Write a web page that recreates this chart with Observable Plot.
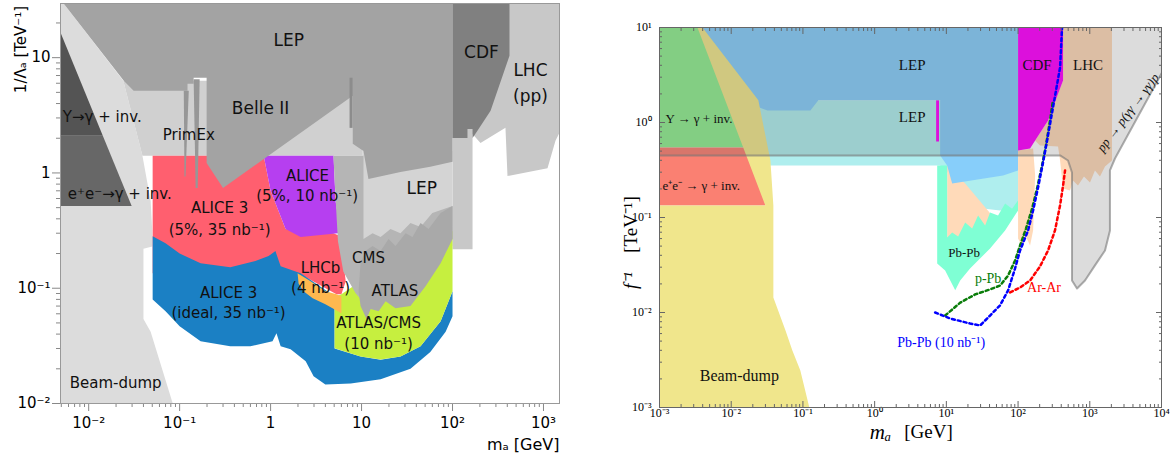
<!DOCTYPE html>
<html><head><meta charset="utf-8">
<script src="https://cdn.jsdelivr.net/npm/d3@7"></script>
<script src="https://cdn.jsdelivr.net/npm/@observablehq/plot@0.6"></script>
<style>
body{margin:0;background:#fff;}
#wrap{display:flex;width:1174px;height:461px;}
</style></head><body><div id="wrap"></div>
<script>
// ================= LEFT PANEL: m_a [GeV] vs 1/Λ_a [TeV^-1] =================
const L_beamDump = [[0.0049,29.5],[0.0053,29.5],[0.024,6.3],[0.039,1.41],[0.048,0.57],[0.05,0.31],[0.05,0.23],[0.04,0.22],[0.04,0.054],[0.048,0.042],[0.084,0.01],[0.0049,0.01]];
const L_primEx = [[0.024,6.3],[10.3,6.3],[10.3,1.41],[0.039,1.41]];
const L_lhcPP = [[100,29.5],[1500,29.5],[1500,2.23],[1355,1.9],[1107,1.1],[402,0.94],[382,2.46],[203,1.82],[166,2.18],[166,0.218],[100,0.218]];
const L_lepLow = [[10.3,1.55],[100,1.55],[100,0.232],[10.3,0.232]];
const L_alice3 = [[0.0505,1.41],[0.84,1.41],[1,0.70],[1.46,0.326],[4.9,0.30],[5.9,0.283],[6.3,0.172],[6.7,0.115],[6.0,0.0887],[5.3,0.0887],[2.03,0.135],[0.0505,0.135]];
const L_alice3Ideal = [[0.0505,0.283],[0.07,0.246],[0.1,0.20],[0.17,0.165],[0.36,0.152],[0.68,0.172],[0.95,0.19],[1.13,0.21],[1.29,0.155],[2.14,0.135],[5.05,0.085],[5.05,0.030],[9.75,0.0256],[16.2,0.024],[26.8,0.0256],[44.5,0.0313],[74,0.0516],[100,0.094],[100,0.057],[84,0.042],[57,0.028],[34.5,0.020],[16.2,0.0162],[7.6,0.0149],[4.0,0.0146],[2.97,0.0172],[2.43,0.0232],[1.66,0.0295],[1.29,0.0313],[1.16,0.0406],[1.05,0.0346],[0.6,0.0313],[0.36,0.0313],[0.17,0.0346],[0.1,0.0468],[0.07,0.063],[0.0505,0.080]];
const L_atlasCms10 = [[5.05,0.0835],[6.0,0.0887],[9.75,0.115],[100,0.313],[100,0.094],[74,0.0516],[44.5,0.0313],[26.8,0.0256],[16.2,0.0241],[9.75,0.0256],[5.05,0.0301]];
const L_lhcb = [[1.98,0.135],[2.75,0.115],[4.0,0.094],[5.3,0.0887],[6.0,0.085],[6.0,0.0607],[4.0,0.0726],[2.9,0.082],[2.3,0.094],[2.03,0.11]];
const L_alice = [[0.84,1.41],[4.92,1.41],[5.18,0.571],[5.88,0.301],[2.14,0.278],[1.46,0.326],[1,0.70]];
const L_cms = [[4.9,1.41],[10.5,1.41],[10.5,0.267],[13.2,0.30],[16.2,0.278],[20.8,0.326],[26.8,0.30],[34.5,0.368],[44.5,0.339],[60,0.449],[100,0.516],[100,0.267],[26.8,0.165],[14.3,0.104],[11.35,0.077],[10.26,0.077],[8.6,0.0905],[6.3,0.14],[5.5,0.256],[5.2,0.571]];
const L_atlas = [[9.75,0.165],[11,0.21],[13.2,0.232],[16.2,0.21],[19.8,0.267],[23.6,0.232],[30.5,0.30],[36.3,0.278],[44.5,0.368],[54.5,0.326],[74,0.449],[100,0.516],[100,0.267],[74,0.165],[50.5,0.104],[34.5,0.07],[23.6,0.067],[18.4,0.077],[15.4,0.063],[12.6,0.066],[11.35,0.054],[9.75,0.07],[9.27,0.094]];
const L_lep = [[0.0053,29.5],[100,29.5],[100,1.25],[57,1.13],[26.8,1.02],[11.9,0.887],[10.5,1.55],[8.0,1.79],[8.0,4.68],[0.30,0.74],[0.198,1.22],[0.198,6.7],[0.1425,6.7],[0.1425,5.94],[0.122,5.94],[0.122,5.16],[0.0312,5.16],[0.0243,6.31]];
const L_primExA = [[0.111,5.16],[0.126,5.16],[0.116,0.93],[0.113,0.93]];
const L_primExB = [[0.1425,6.5],[0.166,6.5],[0.158,0.74],[0.150,0.74]];
const L_lepStripe = [[7.38,6.7],[7.96,6.7],[7.96,2.46],[7.38,2.46]];
const L_cdf = [[100,29.5],[423,29.5],[423,10.4],[262,3.46],[188,2.32],[166,2.01],[166,2.41],[146,2.41],[146,2.01],[100,2.01]];
const L_upsilon = [[0.0049,16.5],[0.0143,2.10],[0.0049,2.10]];
const L_eeGamma = [[0.0049,2.10],[0.0143,2.10],[0.0297,0.516],[0.0049,0.516]];

const L_labelsBig = [["LEP",1.58,14.1],["Belle II",0.776,3.6],["CDF",208,11],["LHC",719,7.7],["(pp)",719,4.58],["LEP",46,0.726]];
const L_labels = [["PrimEx",0.126,2.14],["ALICE 3",0.275,0.497],["(5%, 35 nb⁻¹)",0.275,0.319],["ALICE",2.55,0.94],["(5%, 10 nb⁻¹)",2.52,0.631],["CMS",11.9,0.182],["LHCb",3.54,0.149],["(4 nb⁻¹)",3.54,0.10],["ATLAS",23.3,0.094],["ATLAS/CMS",15.4,0.0497],["(10 nb⁻¹)",15.4,0.0326],["ALICE 3",0.345,0.0905],["(ideal, 35 nb⁻¹)",0.345,0.0607],["Beam-dump",0.0198,0.0149]];
const L_labelsStart = [["Υ→γ + inv.",0.0052,3.07],["e⁺e⁻→γ + inv.",0.0059,0.656]];

const L_xTicks = [0.01,0.1,1,10,100,1000];
const L_xTickLabels = ["10⁻²","10⁻¹","1","10","10²","10³"];
const L_yTicks = [0.01,0.1,1,10];
const L_yTickLabels = ["10⁻²","10⁻¹","1","10"];

// ================= RIGHT PANEL: m_a [GeV] vs f^-1 [TeV^-1] =================
const R_upsilon = [[0.001,10],[0.0037,10],[0.0134,1.71],[0.0232,0.546],[0.001,0.546]];
const R_eeGamma = [[0.001,0.546],[0.03,0.546],[0.03,0.134],[0.001,0.134]];
const R_lepLow = [[0.0134,1.71],[100,1.71],[100,0.124],[56,0.1185],[34.7,0.124],[18.3,0.217],[9.6,0.313],[8.2,0.353],[0.0255,0.353]];
const R_lepPeach = [[10.26,0.353],[18.3,0.228],[43.4,0.105],[43.4,0.0573],[10.26,0.0573]];
const R_pbpb = [[7.45,0.353],[10.26,0.353],[10.26,0.0616],[12.05,0.0695],[14.6,0.063],[18.3,0.0886],[22.9,0.0765],[27.7,0.105],[34.7,0.0824],[40.7,0.113],[52.6,0.105],[65.9,0.140],[82.4,0.124],[100,0.151],[100,0.1185],[65.9,0.073],[40.7,0.0472],[21.4,0.0291],[15.6,0.0217],[13.3,0.0171],[9.62,0.0277],[7.45,0.0328]];
const R_lep = [[0.0037,10],[100,10],[100,0.313],[61.8,0.277],[12.05,0.228],[10.26,0.353],[8.2,0.45],[8.2,1.71],[0.164,1.71],[0.127,1.34],[0.032,1.34],[0.0134,1.71]];
const R_lepStripe = [[7.2,1.71],[7.9,1.71],[7.9,0.631],[7.2,0.631]];
const R_peachBand = [[100,0.507],[162,0.532],[173,0.277],[162,0.073],[147,0.0507],[129,0.063],[113.7,0.0495],[100,0.0601]];
const R_lhc = [[173,0.647],[262,1.05],[424,2.77],[424,10],[2038,10],[2038,0.398],[1629,0.344],[1387,0.270],[1180,0.313],[1007,0.233],[830,0.270],[685,0.217],[583,0.245],[530,0.192],[424,0.202],[385,0.398],[361,0.558],[202,0.573]];
const R_cdf = [[100,10],[424,10],[424,2.77],[262,1.05],[173,0.647],[147,0.532],[100,0.507]];
const R_beamDump = [[0.00338,10],[0.00397,10],[0.0239,1.71],[0.0352,0.398],[0.0387,0.134],[0.0387,0.0144],[0.057,0.0065],[0.071,0.004],[0.092,0.00245],[0.1228,0.001],[0.001,0.001],[0.001,0.134],[0.0299,0.134]];
const R_ppBoundary = [[0.001,0.45],[385,0.45],[497,0.398],[565,0.298],[565,0.0217],[664,0.0179],[857,0.0217],[1180,0.0313],[1629,0.045],[1910,0.073],[1910,0.313],[2244,0.418],[10000,3.28]];
const R_ppTop = [[10000,10],[0.001,10]];

const R_pbpbLine = [[6.98,0.01],[11.3,0.00865],[21.4,0.00766],[29.6,0.0073],[40.7,0.00929],[56.1,0.0119],[72.6,0.0171],[90.8,0.0291],[106.6,0.045],[138,0.073],[162,0.1185],[190,0.207],[223,0.379],[254,0.647],[307,1.44],[385,3.79],[410,9.8]];
const R_ppbLine = [[9.62,0.00929],[15.6,0.0127],[25.2,0.0155],[40.7,0.0175],[56.1,0.0192],[72.6,0.0245],[90.8,0.0353],[106.6,0.0507],[129,0.0765],[157,0.124],[184,0.202],[216,0.353],[245,0.573],[279,1.05],[307,1.71]];
const R_ararLine = [[77.4,0.0163],[106.6,0.0183],[147,0.0217],[202,0.0305],[262,0.045],[327,0.073],[385,0.134],[424,0.217],[452,0.313]];

const R_labels = [["LEP",3.34,3.98],["LEP",3.34,1.13],["CDF",184,3.98],["LHC",944,3.98]];
const R_labelsMath = [["Υ → γ + inv.",0.00121,1.10],["e⁺e⁻ → γ + inv.",0.0011,0.217]];
const R_beamLabel = [["Beam-dump",0.013,0.00217]];
const R_pbLabel = [["Pb-Pb",17.7,0.0428]];
const R_lineLabels = [["p-Pb",38.2,0.0228,"#0a7d0a"],["Ar-Ar",230,0.0183,"#ff0000"],["Pb-Pb (10 nb⁻¹)",8.47,0.00483,"#0000ff"]];
const R_ppLabel = [["pp → p(γγ → γγ)p",3404,1.27]];

const R_xTicks = [0.001,0.01,0.1,1,10,100,1000,10000];
const R_xTickLabels = ["10⁻³","10⁻²","10⁻¹","10⁰","10¹","10²","10³","10⁴"];
const R_yTicks = [0.001,0.01,0.1,1,10];
const R_yTickLabels = ["10⁻³","10⁻²","10⁻¹","10⁰","10¹"];

// ---------- helpers ----------
function minors(lo, hi) {
  const out = [];
  for (let e = -4; e <= 4; e++) for (let m = 2; m <= 9; m++) { const v = +(m * Math.pow(10, e)).toPrecision(3); if (v >= lo && v <= hi) out.push(v); }
  return out;
}
const px = d => d[0], py = d => d[1];
const poly = (data, fill, extra = {}) => Plot.line(data, {x: px, y: py, fill, stroke: "none", clip: true, ...extra});
const fmt = (ticks, labels) => d => labels[ticks.indexOf(d)];

// ---------- left plot ----------
const left = Plot.plot({
  width: 587, height: 461,
  marginLeft: 60, marginRight: 28, marginTop: 3, marginBottom: 58,
  style: {fontFamily: "DejaVu Sans", background: "#fff"},
  x: {type: "log", domain: [0.0049, 1500]},
  y: {type: "log", domain: [0.01, 29.5]},
  marks: [
    poly(L_beamDump, "#dcdcdc"),
    poly(L_primEx, "#d0d0d0"),
    poly(L_lhcPP, "#c8c8c8"),
    poly(L_lepLow, "#d4d4d4"),
    poly(L_alice3, "#ff5f6f"),
    poly(L_alice3Ideal, "#1b80c4"),
    poly(L_atlasCms10, "#c6ef3f"),
    poly(L_lhcb, "#ffb84f"),
    poly(L_alice, "#b63ff0"),
    poly(L_cms, "#b5b5b5"),
    poly(L_atlas, "#a9a9a9"),
    poly(L_lep, "#a3a3a3"),
    poly(L_primExA, "#979797"),
    poly(L_primExB, "#979797"),
    poly(L_lepStripe, "#8c8c8c"),
    poly(L_cdf, "#808080"),
    poly(L_upsilon, "#545454"),
    poly(L_eeGamma, "#676767"),
    Plot.text(L_labelsBig, {x: d => d[1], y: d => d[2], text: d => d[0], fontSize: 17, fill: "#111"}),
    Plot.text(L_labels, {x: d => d[1], y: d => d[2], text: d => d[0], fontSize: 15, fill: "#111"}),
    Plot.text(L_labelsStart, {x: d => d[1], y: d => d[2], text: d => d[0], fontSize: 15, textAnchor: "start", fill: "#111"}),
    Plot.axisX(minors(0.0049, 1500), {anchor: "bottom", tickSize: 4, tickFormat: () => "", label: null, stroke: "#888"}),
    Plot.axisX(L_xTicks, {anchor: "bottom", tickSize: 8, tickPadding: 6, tickFormat: fmt(L_xTicks, L_xTickLabels), label: null, fontSize: 15, stroke: "#888"}),
    Plot.axisY(minors(0.01, 29.5), {anchor: "left", tickSize: 4, tickFormat: () => "", label: null, stroke: "#888"}),
    Plot.axisY(L_yTicks, {anchor: "left", tickSize: 8, tickPadding: 2, tickFormat: fmt(L_yTicks, L_yTickLabels), label: null, fontSize: 15, stroke: "#888"}),
    Plot.frame({stroke: "#999"}),
    Plot.text(["1/Λₐ [TeV⁻¹]"], {frameAnchor: "top-left", dx: -45, dy: 46, rotate: -90, textAnchor: "middle", fontSize: 15}),
    Plot.text(["mₐ [GeV]"], {frameAnchor: "bottom-right", dy: 46, textAnchor: "end", fontSize: 16})
  ]
});

// ---------- right plot ----------
const right = Plot.plot({
  width: 587, height: 461,
  marginLeft: 72, marginRight: 13, marginTop: 27, marginBottom: 54,
  style: {fontFamily: "Liberation Serif", background: "#fff"},
  x: {type: "log", domain: [0.001, 10000]},
  y: {type: "log", domain: [0.001, 10]},
  marks: [
    poly(R_upsilon, "#90ee90"),
    poly(R_eeGamma, "#fa8072"),
    poly(R_lepLow, "#afeeee"),
    poly(R_lepPeach, "#ffdab9"),
    poly(R_pbpb, "#7fffd4"),
    poly(R_lep, "#87cefa"),
    poly(R_lepStripe, "#ff00ff"),
    poly(R_peachBand, "#ffdab9"),
    poly(R_lhc, "#ffdab9"),
    poly(R_cdf, "#ff00ff"),
    poly(R_beamDump, "#f0e68c"),
    poly(R_ppBoundary.concat(R_ppTop), "#505050", {fillOpacity: 0.2}),
    Plot.line(R_ppBoundary, {x: px, y: py, stroke: "#777", strokeOpacity: 0.6, strokeWidth: 2, clip: true}),
    Plot.line(R_ppbLine, {x: px, y: py, stroke: "#0a7d0a", strokeWidth: 2.5, strokeDasharray: "3,3"}),
    Plot.line(R_pbpbLine, {x: px, y: py, stroke: "#0000ff", strokeWidth: 2.5, strokeDasharray: "3,3"}),
    Plot.line(R_ararLine, {x: px, y: py, stroke: "#ff0000", strokeWidth: 2.5, strokeDasharray: "3,3"}),
    Plot.text(R_labels, {x: d => d[1], y: d => d[2], text: d => d[0], fontSize: 15, fill: "#111"}),
    Plot.text(R_labelsMath, {x: d => d[1], y: d => d[2], text: d => d[0], fontSize: 13, textAnchor: "start", fill: "#111"}),
    Plot.text(R_beamLabel, {x: d => d[1], y: d => d[2], text: d => d[0], fontSize: 16, fill: "#111"}),
    Plot.text(R_pbLabel, {x: d => d[1], y: d => d[2], text: d => d[0], fontSize: 13, fill: "#111"}),
    Plot.text(R_lineLabels, {x: d => d[1], y: d => d[2], text: d => d[0], fill: d => d[3], fontSize: 14}),
    Plot.text(R_ppLabel, {x: d => d[1], y: d => d[2], text: d => d[0], rotate: -53, fontSize: 13, fontStyle: "italic", fill: "#111"}),
    Plot.axisX(minors(0.001, 10000), {anchor: "bottom", tickSize: -3, tickFormat: () => "", label: null, stroke: "#666"}),
    Plot.axisX(R_xTicks, {anchor: "bottom", tickSize: -6, tickFormat: () => "", label: null, stroke: "#666"}),
    Plot.axisX(R_xTicks, {anchor: "bottom", tickSize: 0, tickPadding: 1, tickFormat: fmt(R_xTicks, R_xTickLabels), label: null, fontSize: 12}),
    Plot.axisX(minors(0.001, 10000), {anchor: "top", tickSize: -3, tickFormat: () => "", label: null, stroke: "#666"}),
    Plot.axisX(R_xTicks, {anchor: "top", tickSize: -6, tickFormat: () => "", label: null, stroke: "#666"}),
    Plot.axisY(minors(0.001, 10), {anchor: "left", tickSize: -3, tickFormat: () => "", label: null, stroke: "#666"}),
    Plot.axisY(R_yTicks, {anchor: "left", tickSize: -6, tickFormat: () => "", label: null, stroke: "#666"}),
    Plot.axisY(R_yTicks, {anchor: "left", tickSize: 0, tickPadding: 8, tickFormat: fmt(R_yTicks, R_yTickLabels), label: null, fontSize: 12}),
    Plot.axisY(minors(0.001, 10), {anchor: "right", tickSize: -3, tickFormat: () => "", label: null, stroke: "#666"}),
    Plot.axisY(R_yTicks, {anchor: "right", tickSize: -6, tickFormat: () => "", label: null, stroke: "#666"}),
    Plot.frame({stroke: "#666"}),
    Plot.text(["[TeV⁻¹]"], {frameAnchor: "top-left", dx: -36, dy: 197, rotate: -90, textAnchor: "middle", fontSize: 19}),
    Plot.text(["f⁻¹"], {frameAnchor: "top-left", dx: -36, dy: 253, rotate: -90, textAnchor: "middle", fontSize: 19, fontStyle: "italic"}),
    Plot.text(["mₐ"], {frameAnchor: "bottom", dx: -30, dy: 31, fontSize: 21, fontStyle: "italic"}),
    Plot.text(["[GeV]"], {frameAnchor: "bottom", dx: 18, dy: 30, fontSize: 19})
  ]
});

const wrap = document.getElementById("wrap");
wrap.appendChild(left);
wrap.appendChild(right);
</script>
</body></html>
